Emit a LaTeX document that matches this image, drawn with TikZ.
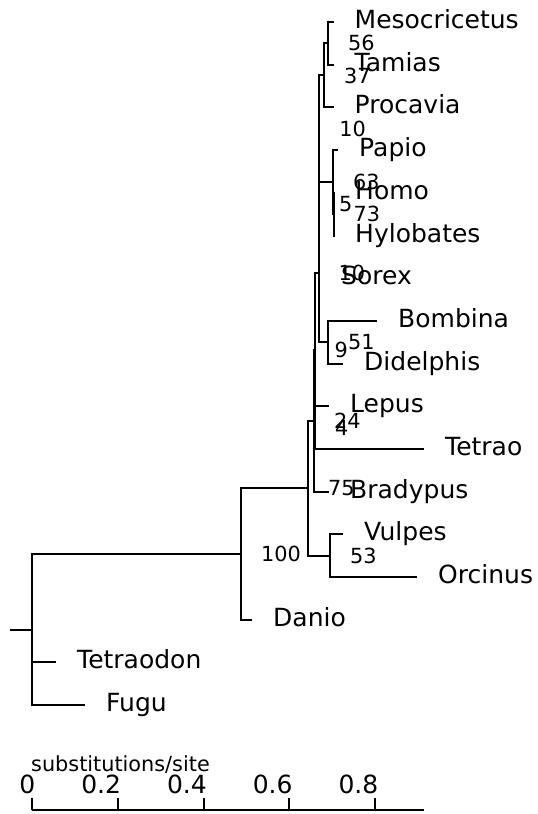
\documentclass[tikz,border=0pt]{standalone}
\usepackage{fontspec}
\setmainfont{DejaVu Sans}
\usetikzlibrary{positioning}

\begin{document}
\begin{tikzpicture}[
  x=1pt, y=-1pt,
  branch/.style={draw=black,line width=2pt},
  leaf/.style={anchor=west,inner sep=0pt,text height=19pt,text depth=6pt,font=\fontsize{25}{30}\selectfont},
  conf/.style={anchor=west,inner sep=0pt,text height=15.2pt,text depth=0pt,font=\fontsize{20.8}{25}\selectfont},
  ticklbl/.style={anchor=base east,inner sep=0pt,font=\fontsize{25}{30}\selectfont},
  axislbl/.style={anchor=base west,inner sep=0pt,font=\fontsize{20.8}{25}\selectfont}
]
\useasboundingbox (0,0) rectangle (538,814);

% internal nodes
\coordinate (root0) at (10,629.5);
\coordinate (root) at (32,629.5);
\coordinate (n100) at (241,554.0);
\coordinate (n75) at (308,488.3);
\coordinate (n24) at (314,420.9);
\coordinate (n9) at (314.5,350.2);
\coordinate (n4) at (315,427.55);
\coordinate (n10b) at (318.5,272.8);
\coordinate (n5) at (318.8,203.4);
\coordinate (n10a) at (319.1,128.75);
\coordinate (n37) at (324,75.4);
\coordinate (n56) at (328,43.35);
\coordinate (n63) at (333,182.1);
\coordinate (n73) at (333.5,214.15);
\coordinate (n51) at (328,342.15);
\coordinate (n53) at (330,555.65);

% leaf tips
\coordinate (mes) at (333.5,22.0);
\coordinate (tam) at (333.5,64.7);
\coordinate (pro) at (333.5,107.4);
\coordinate (pap) at (338,150.1);
\coordinate (hom) at (334,192.8);
\coordinate (hyl) at (334,235.5);
\coordinate (sor) at (320,278.1);
\coordinate (bom) at (377,320.8);
\coordinate (did) at (343,363.5);
\coordinate (lep) at (329,406.2);
\coordinate (tet) at (424,448.9);
\coordinate (bra) at (329,491.6);
\coordinate (vul) at (343,534.3);
\coordinate (orc) at (417,577.0);
\coordinate (dan) at (252,619.7);
\coordinate (tdn) at (56,662.4);
\coordinate (fug) at (85,705.0);

% branches
\draw[branch] (root0) -- (root);
\foreach \c in {n100,tdn,fug} \draw[branch] (root) |- (\c);
\foreach \c in {n75,dan} \draw[branch] (n100) |- (\c);
\foreach \c in {n24,n53} \draw[branch] (n75) |- (\c);
\foreach \c in {n9,bra} \draw[branch] (n24) |- (\c);
\foreach \c in {n10b,n4} \draw[branch] (n9) |- (\c);
\foreach \c in {lep,tet} \draw[branch] (n4) |- (\c);
\foreach \c in {n5,n51} \draw[branch] (n10b) |- (\c);
\foreach \c in {bom,did} \draw[branch] (n51) |- (\c);
\foreach \c in {n10a,sor} \draw[branch] (n5) |- (\c);
\foreach \c in {n37,n63} \draw[branch] (n10a) |- (\c);
\foreach \c in {n56,pro} \draw[branch] (n37) |- (\c);
\foreach \c in {mes,tam} \draw[branch] (n56) |- (\c);
\foreach \c in {pap,n73} \draw[branch] (n63) |- (\c);
\foreach \c in {hom,hyl} \draw[branch] (n73) |- (\c);
\foreach \c in {vul,orc} \draw[branch] (n53) |- (\c);

% taxon names
\node[leaf,right=21pt of mes] (mes-l) {Mesocricetus};
\node[leaf,right=21pt of tam] (tam-l) {Tamias};
\node[leaf,right=21pt of pro] (pro-l) {Procavia};
\node[leaf,right=21pt of pap] (pap-l) {Papio};
\node[leaf,right=21pt of hom] (hom-l) {Homo};
\node[leaf,right=21pt of hyl] (hyl-l) {Hylobates};
\node[leaf,right=21pt of sor] (sor-l) {Sorex};
\node[leaf,right=21pt of bom] (bom-l) {Bombina};
\node[leaf,right=21pt of did] (did-l) {Didelphis};
\node[leaf,right=21pt of lep] (lep-l) {Lepus};
\node[leaf,right=21pt of tet] (tet-l) {Tetrao};
\node[leaf,right=21pt of bra] (bra-l) {Bradypus};
\node[leaf,right=21pt of vul] (vul-l) {Vulpes};
\node[leaf,right=21pt of orc] (orc-l) {Orcinus};
\node[leaf,right=21pt of dan] (dan-l) {Danio};
\node[leaf,right=21pt of tdn] (tdn-l) {Tetraodon};
\node[leaf,right=21pt of fug] (fug-l) {Fugu};

% support values
\node[conf,right=20pt of n56] (n56-c) {56};
\node[conf,right=20pt of n37] (n37-c) {37};
\node[conf,right=20pt of n10a] (n10a-c) {10};
\node[conf,right=20pt of n63] (n63-c) {63};
\node[conf,right=20pt of n5] (n5-c) {5};
\node[conf,right=20pt of n73] (n73-c) {73};
\node[conf,right=20pt of n10b] (n10b-c) {10};
\node[conf,right=20pt of n51] (n51-c) {51};
\node[conf,right=20pt of n9] (n9-c) {9};
\node[conf,right=20pt of n24] (n24-c) {24};
\node[conf,right=20pt of n4] (n4-c) {4};
\node[conf,right=20pt of n75] (n75-c) {75};
\node[conf,right=20pt of n100] (n100-c) {100};
\node[conf,right=20pt of n53] (n53-c) {53};

% scale
\draw[branch] (32,810) -- (424,810);
\foreach \v [count=\i from 0] in {0,0.2,0.4,0.6,0.8} {
  \draw[branch] (32+85.75*\i,810) -- (32+85.75*\i,798);
  \node[ticklbl] (tick\i) at (35.5+85.75*\i,793) {\v};
}
\node[axislbl] (scale-l) at (31,771) {substitutions/site};
\end{tikzpicture}
\end{document}
